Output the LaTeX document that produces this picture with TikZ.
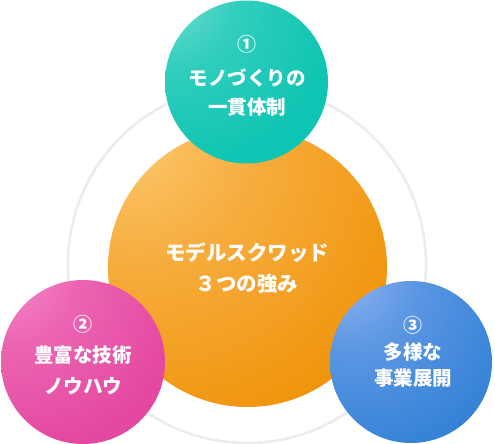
\documentclass[tikz,border=0pt]{standalone}
\usepackage{fontspec}
\newfontfamily\jp{Noto Sans CJK JP}
\usetikzlibrary{calc}
\definecolor{ringc}{RGB}{236,236,236}
\definecolor{orA}{RGB}{253,204,118}
\definecolor{orM}{RGB}{246,172,60}
\definecolor{orB}{RGB}{240,145,5}
\definecolor{teA}{RGB}{128,226,212}
\definecolor{teM}{RGB}{50,206,190}
\definecolor{teB}{RGB}{14,196,178}
\definecolor{piA}{RGB}{244,142,204}
\definecolor{piM}{RGB}{236,100,178}
\definecolor{piB}{RGB}{228,72,160}
\definecolor{blA}{RGB}{145,180,240}
\definecolor{blM}{RGB}{90,150,226}
\definecolor{blB}{RGB}{50,128,214}
\pgfdeclareradialshading{orangeball}{\pgfpoint{-24bp}{27bp}}{color(0bp)=(orA); color(22bp)=(orM); color(50bp)=(orB); color(120bp)=(orB)}
\pgfdeclareradialshading{tealball}{\pgfpoint{-28bp}{30bp}}{color(0bp)=(teA); color(20bp)=(teM); color(45bp)=(teB); color(120bp)=(teB)}
\pgfdeclareradialshading{pinkball}{\pgfpoint{-26bp}{30bp}}{color(0bp)=(piA); color(20bp)=(piM); color(45bp)=(piB); color(120bp)=(piB)}
\pgfdeclareradialshading{blueball}{\pgfpoint{-22bp}{28bp}}{color(0bp)=(blA); color(20bp)=(blM); color(48bp)=(blB); color(120bp)=(blB)}
\tikzset{
  ball/.style={circle, inner sep=0pt, draw=none},
  lbl/.style={text=white, inner sep=0pt, font=\jp\bfseries\fontsize{19.5}{22}\selectfont},
  big/.style={lbl, font=\jp\bfseries\fontsize{20.5}{23}\selectfont},
  num/.style={text=white, inner sep=0pt, font=\jp\bfseries\fontsize{19}{21}\selectfont}
}
\begin{document}
\begin{tikzpicture}[x=1pt,y=-1pt]
\useasboundingbox (0,0) rectangle (495,444);
\draw[ringc, line width=2.6] (247,264) circle[radius=179];
\node[ball, minimum size=279pt, shading=orangeball] (core) at (247.5,267.5) {};
\node[ball, minimum size=163pt, shading=tealball] (one) at (246.5,82) {};
\node[ball, minimum size=164pt, shading=pinkball] (two) at (83,362) {};
\node[ball, minimum size=162pt, shading=blueball] (three) at (411,362) {};
\node[big] (c1) at (247,253) {モデルスクワッド};
\node[big] (c2) at (247,284) {３つの強み};
\node[num] (a0) at (247,44) {①};
\node[lbl] (a1) at (247,78) {モノづくりの};
\node[lbl] (a2) at (247,107) {一貫体制};
\node[num] (b0) at (83,324) {②};
\node[lbl] (b1) at (83,355) {豊富な技術};
\node[lbl] (b2) at (83,386) {ノウハウ};
\node[num] (d0) at (413,325) {③};
\node[lbl] (d1) at (413,352) {多様な};
\node[lbl] (d2) at (413,378) {事業展開};
\end{tikzpicture}
\end{document}
